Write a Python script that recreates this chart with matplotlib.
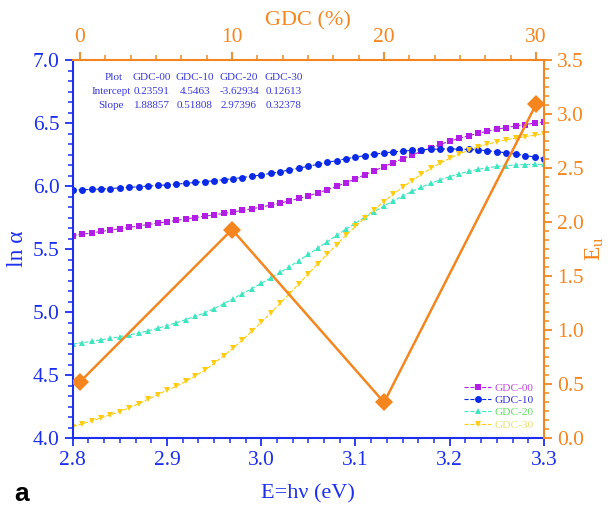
import matplotlib
matplotlib.use("Agg")
import matplotlib.pyplot as plt
from matplotlib.ticker import AutoMinorLocator, MultipleLocator, FormatStrFormatter
import numpy as np

plt.rcParams["font.family"] = ["Liberation Serif", "DejaVu Serif"]
plt.rcParams["mathtext.fontset"] = "custom"
plt.rcParams["mathtext.rm"] = "Liberation Serif"
plt.rcParams["mathtext.it"] = "Liberation Serif:italic"

# ---------------- data ----------------
energy = [2.80, 2.81, 2.82, 2.83, 2.84, 2.85, 2.86, 2.87, 2.88, 2.89,
          2.90, 2.91, 2.92, 2.93, 2.94, 2.95, 2.96, 2.97, 2.98, 2.99,
          3.00, 3.01, 3.02, 3.03, 3.04, 3.05, 3.06, 3.07, 3.08, 3.09,
          3.10, 3.11, 3.12, 3.13, 3.14, 3.15, 3.16, 3.17, 3.18, 3.19,
          3.20, 3.21, 3.22, 3.23, 3.24, 3.25, 3.26, 3.27, 3.28, 3.29, 3.30]

gdc00 = [5.606, 5.617, 5.628, 5.639, 5.650, 5.661, 5.672, 5.683, 5.694, 5.705,
         5.716, 5.727, 5.738, 5.749, 5.760, 5.771, 5.782, 5.794, 5.806, 5.819,
         5.833, 5.848, 5.864, 5.882, 5.901, 5.922, 5.945, 5.970, 5.997, 6.026,
         6.057, 6.089, 6.121, 6.153, 6.185, 6.216, 6.246, 6.275, 6.303, 6.330,
         6.355, 6.378, 6.399, 6.418, 6.435, 6.450, 6.464, 6.476, 6.488, 6.499, 6.509]

gdc10 = [5.967, 5.970, 5.973, 5.976, 5.980, 5.985, 5.989, 5.994, 5.999, 6.004,
         6.009, 6.015, 6.021, 6.028, 6.035, 6.042, 6.050, 6.058, 6.067, 6.077,
         6.088, 6.100, 6.113, 6.127, 6.142, 6.157, 6.172, 6.187, 6.202, 6.216,
         6.229, 6.241, 6.252, 6.262, 6.270, 6.277, 6.283, 6.288, 6.291, 6.293,
         6.294, 6.293, 6.290, 6.286, 6.280, 6.272, 6.263, 6.253, 6.242, 6.230, 6.217]

gdc20 = [4.746, 4.756, 4.767, 4.779, 4.791, 4.804, 4.818, 4.833, 4.850, 4.870,
         4.892, 4.915, 4.940, 4.966, 4.994, 5.026, 5.065, 5.105, 5.145, 5.186,
         5.227, 5.270, 5.314, 5.360, 5.408, 5.457, 5.507, 5.558, 5.608, 5.657,
         5.705, 5.752, 5.797, 5.840, 5.881, 5.920, 5.957, 5.992, 6.022, 6.050,
         6.075, 6.097, 6.116, 6.132, 6.145, 6.155, 6.162, 6.167, 6.170, 6.171, 6.172]

gdc30 = [4.090, 4.112, 4.135, 4.159, 4.184, 4.210, 4.240, 4.273, 4.307, 4.343,
         4.380, 4.410, 4.450, 4.493, 4.537, 4.593, 4.651, 4.712, 4.778, 4.847,
         4.918, 4.992, 5.068, 5.146, 5.225, 5.304, 5.382, 5.459, 5.535, 5.609,
         5.680, 5.748, 5.813, 5.875, 5.934, 5.990, 6.043, 6.093, 6.139, 6.182,
         6.220, 6.254, 6.284, 6.310, 6.332, 6.351, 6.367, 6.380, 6.392, 6.403, 6.413]

gdc_pct = [0, 10, 20, 30]
urbach = [0.52, 1.93, 0.33, 3.09]

series_labels = ["GDC-00", "GDC-10", "GDC-20", "GDC-30"]
table_header = ["Plot", "GDC-00", "GDC-10", "GDC-20", "GDC-30"]
table_intercept = ["Intercept", "0.23591", "4.5463", "-3.62934", "0.12613"]
table_slope = ["Slope", "1.88857", "0.51808", "2.97396", "0.32378"]

# ---------------- style ----------------
BLUE = "#1c2ff0"
ORANGE = "#f5861f"
c_series = ["#b21ee6", "#0a2ae8", "#3ee6c0", "#ffcc10"]
c_legtext = ["#c04ae0", "#3030e0", "#60e060", "#e6e070"]
markers = ["s", "o", "^", "v"]

W, H = 614, 509
fig = plt.figure(figsize=(W / 100, H / 100), dpi=100)
L, R, T, B = 72.7, 544, 60, 438
pos = [L / W, 1 - B / H, (R - L) / W, (B - T) / H]
ax = fig.add_axes(pos)

series = [gdc00, gdc10, gdc20, gdc30]
handles = []
for y, c, m, lab in zip(series, c_series, markers, series_labels):
    h, = ax.plot(energy, y, linestyle="--", linewidth=0.8, color=c,
                 marker=m, markersize=5.0, markeredgewidth=0, label=lab)
    handles.append(h)

ax.set_xlim(2.8, 3.3)
ax.set_ylim(4.0, 7.0)
ax.xaxis.set_major_locator(MultipleLocator(0.1))
ax.yaxis.set_major_locator(MultipleLocator(0.5))
ax.xaxis.set_minor_locator(AutoMinorLocator(6))
ax.yaxis.set_minor_locator(AutoMinorLocator(6))
ax.xaxis.set_major_formatter(FormatStrFormatter("%.1f"))
ax.yaxis.set_major_formatter(FormatStrFormatter("%.1f"))
ax.tick_params(axis="both", which="major", direction="out", length=6, width=1.3,
               colors=BLUE, labelsize=15.5)
ax.tick_params(axis="both", which="minor", direction="out", length=3.5, width=1.1,
               colors=BLUE)
ax.spines["left"].set_color(BLUE)
ax.spines["bottom"].set_color(BLUE)
ax.spines["left"].set_linewidth(1.5)
ax.spines["bottom"].set_linewidth(1.5)
ax.spines["top"].set_visible(False)
ax.spines["right"].set_visible(False)
ax.set_xlabel("E=h\u03bd (eV)", color=BLUE, fontsize=16, labelpad=10)
ax.set_ylabel("ln \u03b1", color=BLUE, fontsize=17, labelpad=3)

# secondary axes (top x: GDC %, right y: Eu)
ax2 = fig.add_axes(pos)
ax2.patch.set_visible(False)
ax2.plot(gdc_pct, urbach, color=ORANGE, linewidth=1.8, marker="D",
         markersize=9, markeredgewidth=0)
ax2.set_xlim(-0.48, 30.52)
ax2.set_ylim(0, 3.5)
ax2.xaxis.tick_top()
ax2.yaxis.tick_right()
ax2.xaxis.set_label_position("top")
ax2.yaxis.set_label_position("right")
ax2.xaxis.set_major_locator(MultipleLocator(10))
ax2.yaxis.set_major_locator(MultipleLocator(0.5))
ax2.xaxis.set_minor_locator(AutoMinorLocator(6))
ax2.yaxis.set_minor_locator(AutoMinorLocator(6))
ax2.yaxis.set_major_formatter(FormatStrFormatter("%.1f"))
ax2.tick_params(axis="both", which="major", direction="out", length=6, width=1.3,
                colors=ORANGE, labelsize=15.5)
ax2.tick_params(axis="both", which="minor", direction="out", length=3.5, width=1.1,
                colors=ORANGE)
for s in ["left", "bottom"]:
    ax2.spines[s].set_visible(False)
for s in ["top", "right"]:
    ax2.spines[s].set_color(ORANGE)
    ax2.spines[s].set_linewidth(1.5)
ax2.set_xlabel("GDC (%)", color=ORANGE, fontsize=16, labelpad=2)
ax2.set_ylabel("E$_\\mathregular{u}$", color=ORANGE, fontsize=17, labelpad=0)

# table text
col_x = [111, 152, 195, 239, 284]
row_y = [77.5, 92, 105.5]
for row, yy in zip([table_header, table_intercept, table_slope], row_y):
    for j, (txt, xx) in enumerate(zip(row, col_x)):
        if j == 0 and txt == "Plot":
            xx = 114
        fig.text(xx / W, 1 - yy / H, txt, ha="center", va="center",
                 color="#3838d8", fontsize=8)

# legend
leg = ax2.legend(handles=handles, loc="lower right", bbox_to_anchor=(1.0, -0.005),
                 frameon=False, prop={"size": 8.2},
                 handlelength=2.4, handletextpad=0.3, labelspacing=0.2,
                 borderaxespad=0.5)
for txt, c in zip(leg.get_texts(), c_legtext):
    txt.set_color(c)

fig.text(14 / W, 1 - 494 / H, "a", fontsize=19, fontweight="bold",
         family=["Liberation Sans", "DejaVu Sans"], va="center", ha="left")

fig.savefig("out.png", dpi=100)
